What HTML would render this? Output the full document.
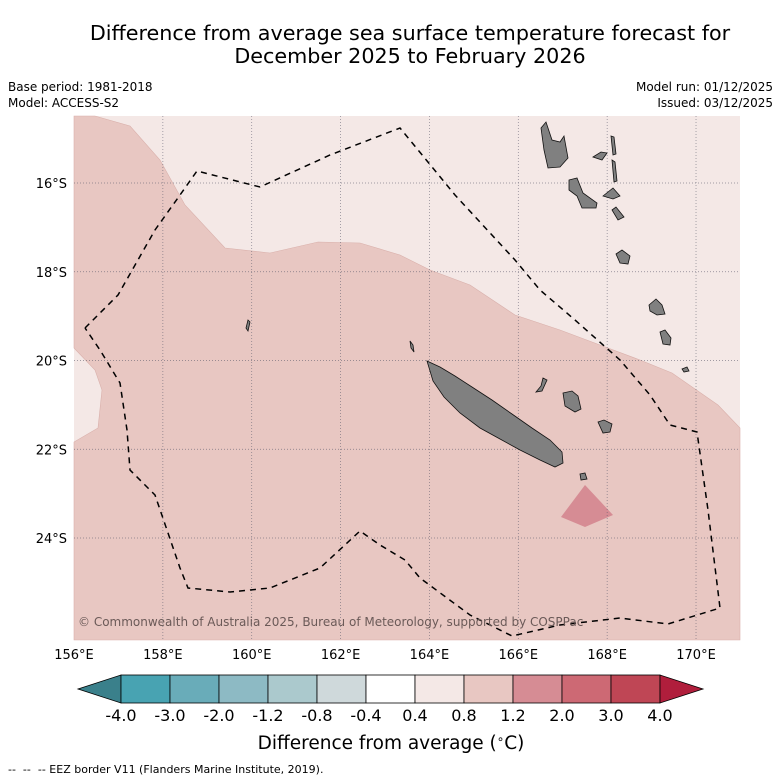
<!DOCTYPE html>
<html><head><meta charset="utf-8"><style>
body{margin:0;background:#fff;width:781px;height:781px;overflow:hidden;font-family:"Liberation Sans","DejaVu Sans",sans-serif}
svg{position:absolute;left:0;top:0}
</style></head><body>
<svg width="781" height="781" viewBox="0 0 781 781" id="chart" font-family="DejaVu Sans, Liberation Sans, sans-serif">
<text x="410" y="40" text-anchor="middle" font-size="20.7">Difference from average sea surface temperature forecast for</text>
<text x="410" y="63" text-anchor="middle" font-size="20.7">December 2025 to February 2026</text>
<text x="8" y="91" font-size="12">Base period: 1981-2018</text>
<text x="8" y="107" font-size="12">Model: ACCESS-S2</text>
<text x="773" y="91" font-size="12" text-anchor="end">Model run: 01/12/2025</text>
<text x="773" y="107" font-size="12" text-anchor="end">Issued: 03/12/2025</text>
<g id="map">
<rect x="74" y="116" width="666" height="524" fill="#f4e8e6"/>
<polygon fill="#e8c7c2" stroke="#d9b0ab" stroke-width="0.6" points="74,116 95,116 130,126 160,160 185,205 225,248 270,253 318,242 360,243 400,255 430,270 470,285 515,315 560,330 600,345 640,360 672,373 718,405 740,428 740,640 74,640 74,442 98,428 102,390 95,370 74,348"/>
<polygon fill="#d68c94" points="561,517 585,485 613,515 585,527"/>
<g id="grid" stroke="#556" stroke-width="0.7" stroke-dasharray="1,2" opacity="0.7"></g>
<g fill="#808080" stroke="#111" stroke-width="0.8">
<polygon points="427,361 440,367 455,376 472,387 492,400 512,414 532,428 550,440 562,452 563,463 555,467 540,460 520,450 500,439 480,428 460,413 444,397 433,381"/>
<polygon points="541,128 546,122 552,140 560,142 564,136 568,158 560,167 548,168 544,150"/>
<polygon points="569,180 577,178 583,193 597,203 596,208 582,208 577,196 569,190"/>
<polygon points="603,196 613,188 620,196 613,199"/>
<polygon points="612,210 616,207 624,217 618,220"/>
<polygon points="616,254 622,250 630,256 628,264 620,263"/>
<polygon points="593,157 601,152 607,153 602,160"/>
<polygon points="611,136 614,137 616,154 613,155"/>
<polygon points="612,160 615,162 617,181 614,182"/>
<polygon points="649,305 656,299 662,305 665,314 657,315 650,311"/>
<polygon points="660,332 665,330 671,338 670,345 663,344"/>
<polygon points="682,369 687,367 689,371 684,372"/>
<polygon points="563,393 572,391 578,396 581,409 575,412 565,406"/>
<polygon points="598,422 604,420 612,424 610,432 603,433"/>
<polygon points="543,378 547,380 542,391 536,392 541,386"/>
<polygon points="580,474 585,473 587,479 581,480"/>
<polygon points="410,341 413,345 414,352 411,348"/>
<polygon points="248,320 250,322 248,331 246,328"/>
</g>
<polyline fill="none" stroke="#000" stroke-width="1.5" stroke-dasharray="6,5" points="85,328 118,295 155,230 180,195 197,171 260,187 330,155 400,128 455,195 515,260 540,290 575,320 620,360 650,395 670,425 697,432 708,510 720,608 668,624 620,618 560,625 512,636 470,615 420,578 405,560 380,545 360,531 320,568 270,588 230,592 188,588 180,568 155,495 130,470 127,430 120,383 100,350 85,328"/>
<text x="78" y="626" font-size="12" fill="#6b5a58">© Commonwealth of Australia 2025, Bureau of Meteorology, supported by COSPPac</text>
</g>
<g id="lonlabels"></g><g id="latlabels"></g><g id="cbar"></g>
<text x="391" y="749" text-anchor="middle" font-size="18.5">Difference from average (<tspan dy="-6" font-size="12">∘</tspan><tspan dy="6">C)</tspan></text>
<text x="8" y="773" font-size="11" xml:space="preserve">--  --  -- EEZ border V11 (Flanders Marine Institute, 2019).</text>
</svg>
<script>
const lonTicks=[156,158,160,162,164,166,168,170];
const latTicks=[16,18,20,22,24];
const cbLevels=["-4.0","-3.0","-2.0","-1.2","-0.8","-0.4","0.4","0.8","1.2","2.0","3.0","4.0"];
const cbColors=["#48a3b2","#69acb9","#8dbac4","#abc9cd","#cfd9db","#ffffff","#f4e8e6","#e8c7c2","#d68c94","#cd6974","#bf4655"];
const NS="http://www.w3.org/2000/svg";
const xLon=l=>74+(l-156)*44.43;
const yLat=l=>183+(l-16)*44.375;
function mk(t,a,p){const e=document.createElementNS(NS,t);for(const k in a)e.setAttribute(k,a[k]);p.appendChild(e);return e;}
const grid=document.getElementById('grid');
lonTicks.forEach(l=>{if(l===156)return;const e=mk('line',{x1:xLon(l),x2:xLon(l),y1:116,y2:640},grid);

});
latTicks.forEach(l=>{const e=mk('line',{x1:74,x2:740,y1:yLat(l),y2:yLat(l)},grid);

});
const lonG=document.getElementById('lonlabels');
lonTicks.forEach(l=>{const e=mk('text',{x:xLon(l),y:659,'text-anchor':'middle','font-size':13},lonG);e.textContent=l+'°E';

});
const latG=document.getElementById('latlabels');
latTicks.forEach(l=>{const e=mk('text',{x:67,y:yLat(l)+5,'text-anchor':'end','font-size':13},latG);e.textContent=l+'°S';

});
const cb=document.getElementById('cbar');
const x0=121,w=49,yT=675,yB=703;
let t=mk('polygon',{points:`${x0},${yT} ${x0},${yB} 78,689`,fill:'#3a808b',stroke:'#000','stroke-width':0.8},cb);


cbColors.forEach((c,i)=>{const r=mk('rect',{x:x0+i*w,y:yT,width:w,height:yB-yT,fill:c,stroke:'#000','stroke-width':0.8},cb);

});
const xe=x0+cbColors.length*w;
t=mk('polygon',{points:`${xe},${yT} ${xe},${yB} 703,689`,fill:'#b01e3c',stroke:'#000','stroke-width':0.8},cb);


cbLevels.forEach((v,i)=>{const e=mk('text',{x:x0+i*w,y:721,'text-anchor':'middle','font-size':16},cb);e.textContent=v;

});
</script>
</body></html>
